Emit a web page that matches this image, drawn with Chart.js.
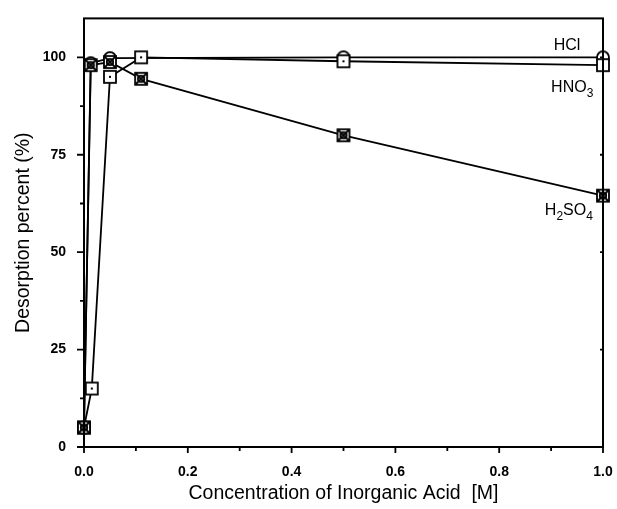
<!DOCTYPE html>
<html lang="en">
<head>
<meta charset="utf-8">
<title>Desorption</title>
<script src="https://cdn.jsdelivr.net/npm/chart.js@4.4.0/dist/chart.umd.min.js"></script>
<style>
  html, body { margin: 0; padding: 0; background: #fff; }
  #wrap { width: 617px; height: 509px; }
</style>
</head>
<body>
<div id="wrap"><canvas id="myChart" width="617" height="509"></canvas></div>
<script>
// data
var hclX = [0, 0.013, 0.05, 0.5, 1.0];
var hclY = [5, 98.5, 99.8, 100, 100];
var hno3X = [0, 0.015, 0.05, 0.11, 0.5, 1.0];
var hno3Y = [5, 15, 95, 100, 99, 98];
var h2so4X = [0, 0.013, 0.05, 0.11, 0.5, 1.0];
var h2so4Y = [5, 98, 98.8, 94.5, 80, 64.5];

var xTicks = [0, 0.2, 0.4, 0.6, 0.8, 1.0];
var xMinor = [0.1, 0.3, 0.5, 0.7, 0.9];
var yTicks = [0, 25, 50, 75, 100];
var yMinor = [12.5, 37.5, 62.5, 87.5];

var FONT = '"Liberation Sans", Arial, sans-serif';

function pts(xs, ys) {
    var out = [];
    for (var i = 0; i < xs.length; i++) out.push({x: xs[i], y: ys[i]});
    return out;
}

// marker images
function marker(kind) {
    var c = document.createElement('canvas');
    c.width = 16; c.height = 16;
    var g = c.getContext('2d');
    g.strokeStyle = '#000';
    g.fillStyle = '#fff';
    g.lineWidth = 1.8;
    if (kind == 'circle') {
        g.beginPath(); g.arc(8, 8, 6, 0, Math.PI * 2); g.fill(); g.stroke();
        g.fillStyle = '#000';
        g.fillRect(7, 8, 2, 2);
    } else {
        g.fillRect(2, 2, 12, 12);
        g.strokeRect(2, 2, 12, 12);
        if (kind == 'cross') {
            g.beginPath();
            g.moveTo(2.5, 2.5); g.lineTo(13.5, 13.5);
            g.moveTo(13.5, 2.5); g.lineTo(2.5, 13.5);
            g.stroke();
            g.beginPath(); g.arc(8, 8, 3.2, 0, Math.PI * 2); g.stroke();
        } else {
            g.fillStyle = '#000';
            g.fillRect(7, 7, 2, 2);
        }
    }
    return c;
}

var frame = {
    id: 'frame',
    afterDraw: function (chart) {
        var ctx = chart.ctx, a = chart.chartArea;
        var sx = chart.scales.x, sy = chart.scales.y;
        ctx.save();
        ctx.strokeStyle = '#000';
        ctx.lineWidth = 2;
        ctx.strokeRect(a.left, a.top, a.right - a.left, a.bottom - a.top);
        ctx.lineWidth = 1.8;
        ctx.beginPath();
        xTicks.forEach(function (v) {
            var p = sx.getPixelForValue(v);
            ctx.moveTo(p, a.bottom); ctx.lineTo(p, a.bottom + 6);
        });
        xMinor.forEach(function (v) {
            var p = sx.getPixelForValue(v);
            ctx.moveTo(p, a.bottom); ctx.lineTo(p, a.bottom + 4);
        });
        yTicks.forEach(function (v) {
            var p = sy.getPixelForValue(v);
            ctx.moveTo(a.left - 7, p); ctx.lineTo(a.left, p);
            ctx.moveTo(a.right, p); ctx.lineTo(a.right - 3, p);
        });
        yMinor.forEach(function (v) {
            var p = sy.getPixelForValue(v);
            ctx.moveTo(a.left - 4, p); ctx.lineTo(a.left, p);
        });
        ctx.stroke();

        // series labels
        ctx.fillStyle = '#000';
        ctx.textBaseline = 'alphabetic';
        function label(parts, xv, yv) {
            var x = sx.getPixelForValue(xv), y = sy.getPixelForValue(yv);
            parts.forEach(function (p) {
                ctx.font = (p.sub ? '12px ' : '16px ') + FONT;
                ctx.fillText(p.t, x, p.sub ? y + 5 : y);
                x += ctx.measureText(p.t).width;
            });
        }
        label([{t: 'HCl'}], 0.905, 101.8);
        label([{t: 'HNO'}, {t: '3', sub: true}], 0.9, 91);
        label([{t: 'H'}, {t: '2', sub: true}, {t: 'SO'}, {t: '4', sub: true}], 0.888, 59.5);
        ctx.restore();
    }
};

var ctx = document.getElementById('myChart');
var common = {
    borderColor: '#000',
    borderWidth: 1.8,
    showLine: true,
    tension: 0,
    clip: false
};

// first dataset is drawn on top
var chart = new Chart(ctx, {
    type: 'scatter',
    data: {
        datasets: [
            Object.assign({label: 'H2SO4', data: pts(h2so4X, h2so4Y), pointStyle: marker('cross')}, common),
            Object.assign({label: 'HNO3', data: pts(hno3X, hno3Y), pointStyle: marker('dot')}, common),
            Object.assign({label: 'HCl', data: pts(hclX, hclY), pointStyle: marker('circle')}, common)
        ]
    },
    options: {
        responsive: false,
        animation: false,
        layout: {padding: {top: 15, right: 14, left: 0, bottom: 0}},
        plugins: {legend: {display: false}, tooltip: {enabled: false}},
        scales: {
            x: {
                type: 'linear', min: 0, max: 1.0,
                afterBuildTicks: function (s) { s.ticks = xTicks.map(function (v) { return {value: v}; }); },
                afterFit: function (s) { s.height = 62; s.paddingLeft = 0; s.paddingRight = 0; },
                grid: {display: false},
                border: {display: false},
                ticks: {
                    color: '#000', padding: 9,
                    font: {size: 14, weight: 'bold', family: FONT},
                    callback: function (v) { return v.toFixed(1); }
                },
                title: {
                    display: true, text: 'Concentration of Inorganic Acid  [M]', color: '#000',
                    font: {size: 19.5, family: FONT},
                    padding: {top: 6}
                }
            },
            y: {
                type: 'linear', min: 0, max: 110,
                afterBuildTicks: function (s) { s.ticks = yTicks.map(function (v) { return {value: v}; }); },
                afterFit: function (s) { s.width = 84; },
                grid: {display: false},
                border: {display: false},
                ticks: {
                    color: '#000', padding: 10,
                    font: {size: 14, weight: 'bold', family: FONT}
                },
                title: {
                    display: true, text: 'Desorption percent (%)', color: '#000',
                    font: {size: 19.5, family: FONT},
                    padding: {top: 12, bottom: 0}
                }
            }
        },
        elements: {point: {radius: 8}}
    },
    plugins: [frame]
});
</script>
</body>
</html>
